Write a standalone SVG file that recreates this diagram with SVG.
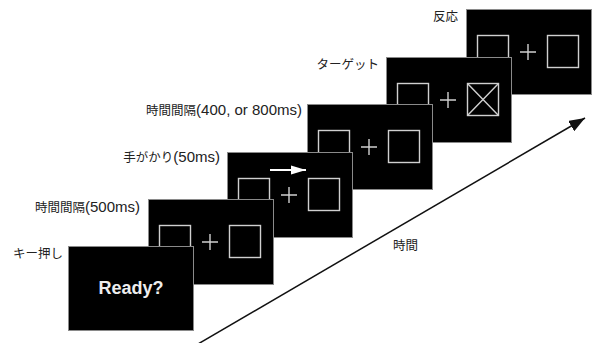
<svg xmlns="http://www.w3.org/2000/svg" xmlns:xlink="http://www.w3.org/1999/xlink" width="599" height="343" viewBox="0 0 599 343">
<style>
.screen{fill:#000;stroke:#8a8a8a;stroke-width:1}
.box{fill:none;stroke:#d0d0d0;stroke-width:1.4}
.cross{stroke:#d0d0d0;stroke-width:1.4}
.label{font-family:"Liberation Sans","Noto Sans CJK JP",sans-serif;font-size:12.5px;fill:#222;text-anchor:end}
.lat{font-size:15px}
.ready{font-family:"Liberation Sans",Arial,sans-serif;font-size:18px;font-weight:bold;fill:#eee;text-anchor:middle}
.axis{stroke:#111;stroke-width:1.5;fill:none}
</style>
<defs>
<marker id="ah" markerUnits="userSpaceOnUse" markerWidth="18" markerHeight="12" refX="16" refY="6" orient="auto">
<path d="M0,0 L16,6 L0,12 Z" fill="#111"/>
</marker>
<marker id="cue" markerUnits="userSpaceOnUse" markerWidth="16" markerHeight="10" refX="15" refY="5" orient="auto">
<path d="M0,0.5 L15,5 L0,9.5 Z" fill="#fff"/>
</marker>
<g id="lsq"><rect class="box" x="11.5" y="26.5" width="31" height="32"/></g>
<g id="rsq"><rect class="box" x="81.5" y="26.5" width="31" height="32"/></g>
<g id="plus"><path class="cross" d="M54,43 H70 M62,35 V51"/></g>
</defs>

<g id="connectors">
<line class="axis" x1="198" y1="344" x2="585" y2="118" marker-end="url(#ah)"/>
<text class="label" style="text-anchor:start" x="393" y="250">時間</text>
</g>

<g id="screen6">
<text class="label" x="458" y="21">反応</text>
<g transform="translate(466,9)">
<rect class="screen" x="0.5" y="0.5" width="125" height="85"/>
<use xlink:href="#lsq"/><use xlink:href="#plus"/><use xlink:href="#rsq"/>
</g>
</g>

<g id="screen5">
<text class="label" x="379" y="69">ターゲット</text>
<g transform="translate(386,57)">
<rect class="screen" x="0.5" y="0.5" width="125" height="85"/>
<use xlink:href="#lsq"/><use xlink:href="#plus"/><use xlink:href="#rsq"/>
<path class="cross" d="M81.5,26.5 L112.5,58.5 M112.5,26.5 L81.5,58.5"/>
</g>
</g>

<g id="screen4">
<text class="label" x="302" y="115">時間間隔<tspan class="lat">(400, or 800ms)</tspan></text>
<g transform="translate(307,104)">
<rect class="screen" x="0.5" y="0.5" width="125" height="85"/>
<use xlink:href="#lsq"/><use xlink:href="#plus"/><use xlink:href="#rsq"/>
</g>
</g>

<g id="screen3">
<text class="label" x="220" y="162">手がかり<tspan class="lat">(50ms)</tspan></text>
<g transform="translate(227,152)">
<rect class="screen" x="0.5" y="0.5" width="125" height="85"/>
<use xlink:href="#lsq"/><use xlink:href="#plus"/><use xlink:href="#rsq"/>
<line x1="43" y1="18" x2="79" y2="18" stroke="#fff" stroke-width="2" marker-end="url(#cue)"/>
</g>
</g>

<g id="screen2">
<text class="label" x="140" y="212">時間間隔<tspan class="lat">(500ms)</tspan></text>
<g transform="translate(148,199)">
<rect class="screen" x="0.5" y="0.5" width="125" height="85"/>
<use xlink:href="#lsq"/><use xlink:href="#plus"/><use xlink:href="#rsq"/>
</g>
</g>

<g id="screen1">
<text class="label" x="63" y="258">キー押し</text>
<g transform="translate(68,246)">
<rect class="screen" x="0.5" y="0.5" width="125" height="84"/>
<text class="ready" x="63" y="48">Ready?</text>
</g>
</g>
</svg>
